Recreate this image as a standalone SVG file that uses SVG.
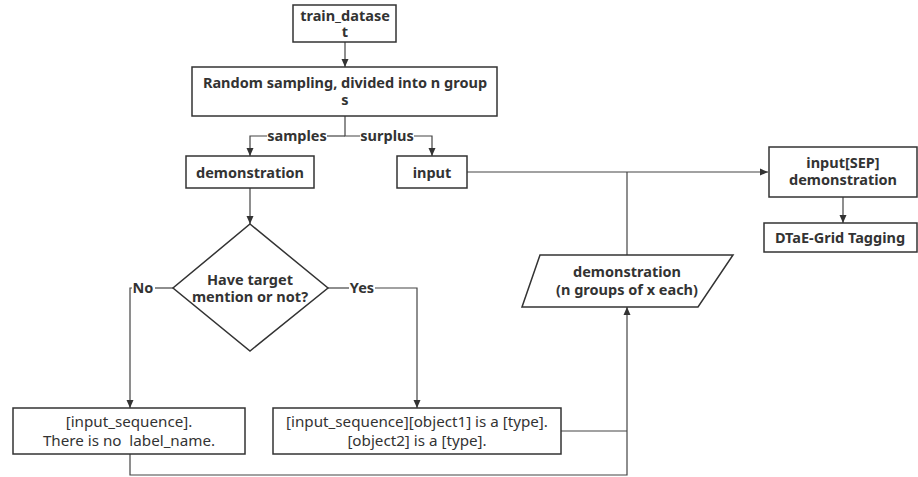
<svg xmlns="http://www.w3.org/2000/svg" width="918" height="477" viewBox="0 0 918 477">
<defs>
<marker id="arr" markerWidth="10" markerHeight="10" refX="9" refY="5" orient="auto" markerUnits="userSpaceOnUse">
<path d="M1,1.5 L9,5 L1,8.5 Z" fill="#333"/>
</marker>
<style>
.box{fill:#fff;stroke:#333;stroke-width:1.5}
.t{font-family:"Noto Sans","Open Sans",sans-serif;font-size:14.5px;font-weight:bold;fill:#333;text-anchor:middle}
.r{font-family:"Noto Sans","Open Sans",sans-serif;font-size:15.2px;fill:#333;text-anchor:middle;white-space:pre}
.c{fill:none;stroke:#444;stroke-width:1.2}
.ca{fill:none;stroke:#444;stroke-width:1.2;marker-end:url(#arr)}
</style>
</defs>
<rect width="918" height="477" fill="#fff"/>
<g id="connectors">
<path class="ca" d="M345,42 V67"/>
<path class="c" d="M345,116 V136 H360"/>
<path class="c" d="M345,136 H327"/>
<path class="ca" d="M267,136 H250 V156"/>
<path class="ca" d="M414,136 H432 V156"/>
<path class="ca" d="M250,188 V224"/>
<path class="c" d="M328,288 H349"/>
<path class="ca" d="M375,288 H417 V408"/>
<path class="c" d="M173,288 H155"/>
<path class="ca" d="M132,288 H130 V408"/>
<path class="ca" d="M467,172 H768"/>
<path class="c" d="M627,172 V255"/>
<path class="ca" d="M843,197 V223"/>
<path class="c" d="M561,431 H627"/>
<path class="ca" d="M130,454 V475 H627 V307"/>
</g>
<g id="train_dataset">
<rect class="box" x="293" y="5" width="103" height="37"/>
<text class="t" x="345" y="21">train_datase</text>
<text class="t" x="345" y="37">t</text>
</g>
<g id="random_sampling">
<rect class="box" x="192" y="67" width="305" height="49"/>
<text class="t" x="345" y="88">Random sampling, divided into n group</text>
<text class="t" x="345" y="105">s</text>
</g>
<g id="label_samples"><text class="t" x="297" y="141">samples</text></g>
<g id="label_surplus"><text class="t" x="387" y="141">surplus</text></g>
<g id="demonstration">
<rect class="box" x="186" y="156" width="128" height="32"/>
<text class="t" x="250" y="178">demonstration</text>
</g>
<g id="input">
<rect class="box" x="397" y="156" width="70" height="32"/>
<text class="t" x="432" y="178">input</text>
</g>
<g id="decision">
<polygon class="box" points="250,224 328,288 250,351 173,288"/>
<text class="t" x="250" y="285">Have target</text>
<text class="t" x="250" y="302">mention or not?</text>
</g>
<g id="label_yes"><text class="t" x="362" y="293">Yes</text></g>
<g id="label_no"><text class="t" x="143" y="293">No</text></g>
<g id="no_result">
<rect class="box" x="13" y="408" width="232" height="46"/>
<text class="r" x="129" y="427">[input_sequence].</text>
<text class="r" x="129" y="446">There is no  label_name.</text>
</g>
<g id="yes_result">
<rect class="box" x="273" y="408" width="288" height="46"/>
<text class="r" x="417" y="427">[input_sequence][object1] is a [type].</text>
<text class="r" x="417" y="446">[object2] is a [type].</text>
</g>
<g id="demo_groups">
<polygon class="box" points="540,255 733,255 698,307 522,307"/>
<text class="t" x="627" y="277">demonstration</text>
<text class="t" x="627" y="295">(n groups of x each)</text>
</g>
<g id="input_sep">
<rect class="box" x="769" y="147" width="148" height="50"/>
<text class="t" x="843" y="168">input[SEP]</text>
<text class="t" x="843" y="185">demonstration</text>
</g>
<g id="dtae">
<rect class="box" x="764" y="223" width="153" height="29"/>
<text class="t" x="840" y="243">DTaE-Grid Tagging</text>
</g>
</svg>
